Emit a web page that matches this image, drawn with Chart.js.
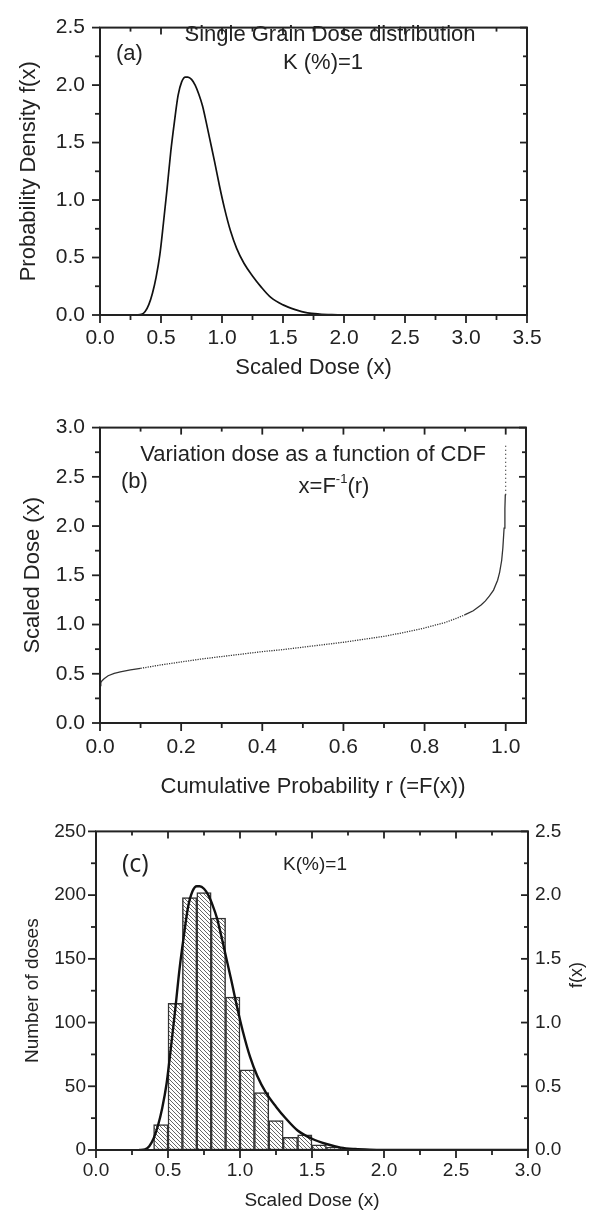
<!DOCTYPE html>
<html>
<head>
<meta charset="utf-8">
<script src="https://cdn.jsdelivr.net/npm/chart.js@4.4.1/dist/chart.umd.min.js"></script>
<style>
  html, body { margin: 0; padding: 0; background: #fff; }
  body { width: 597px; height: 1212px; position: relative; overflow: hidden; }
  .panel { position: absolute; left: 0; width: 597px; }
</style>
</head>
<body>
<div class="panel" style="top:0;height:400px"><canvas id="chartA"></canvas></div>
<div class="panel" style="top:400px;height:410px"><canvas id="chartB"></canvas></div>
<div class="panel" style="top:810px;height:402px"><canvas id="chartC"></canvas></div>
<script>
// (a) probability density f(x) of the scaled single grain dose
const densityX = [0.30, 0.34, 0.37, 0.40, 0.43, 0.46, 0.49, 0.52, 0.55, 0.58, 0.61, 0.64, 0.67, 0.70, 0.72,
                  0.75, 0.78, 0.81, 0.84, 0.87, 0.90, 0.94, 0.98, 1.02, 1.07, 1.12, 1.18, 1.25, 1.32, 1.40,
                  1.50, 1.60, 1.70, 1.80, 1.90, 2.00, 2.50, 3.00, 3.50];
const densityY = [0.00, 0.005, 0.03, 0.09, 0.19, 0.33, 0.52, 0.80, 1.10, 1.42, 1.68, 1.91, 2.03, 2.07, 2.07,
                  2.05, 2.00, 1.92, 1.82, 1.68, 1.53, 1.33, 1.12, 0.93, 0.73, 0.58, 0.45, 0.34, 0.245, 0.153,
                  0.088, 0.047, 0.019, 0.008, 0.003, 0.001, 0, 0, 0];

// (b) dose as a function of the cumulative probability, x = F^-1(r)
const cdfR = [0, 0.002, 0.005, 0.01, 0.02, 0.035, 0.05, 0.075, 0.1, 0.15, 0.2, 0.25, 0.3, 0.35, 0.4, 0.45,
              0.5, 0.55, 0.6, 0.65, 0.7, 0.75, 0.8, 0.85, 0.88, 0.9, 0.92, 0.94, 0.95, 0.96, 0.97, 0.98,
              0.985, 0.99, 0.993, 0.996, 0.998, 0.999, 0.9995, 0.9998, 1.0];
const cdfDose = [0.38, 0.41, 0.43, 0.45, 0.48, 0.505, 0.52, 0.54, 0.555, 0.59, 0.62, 0.65, 0.675, 0.70, 0.725, 0.745,
                 0.77, 0.795, 0.82, 0.85, 0.88, 0.92, 0.965, 1.02, 1.065, 1.10, 1.14, 1.20, 1.24, 1.29, 1.35, 1.45,
                 1.53, 1.65, 1.78, 1.98, 2.18, 2.32, 2.42, 2.60, 2.82];

// (c) histogram of simulated doses (bin width 0.1)
const binCenters = [0.45, 0.55, 0.65, 0.75, 0.85, 0.95, 1.05, 1.15, 1.25, 1.35, 1.45, 1.55, 1.65, 1.75];
const doseCounts = [20, 115, 198, 202, 182, 120, 63, 45, 23, 10, 12, 4, 2, 1];

// tick values
const doseTicksA = [0, 0.5, 1.0, 1.5, 2.0, 2.5, 3.0, 3.5];
const densityTicks = [0, 0.5, 1.0, 1.5, 2.0, 2.5];
const probTicks = [0, 0.2, 0.4, 0.6, 0.8, 1.0];
const doseTicksB = [0, 0.5, 1.0, 1.5, 2.0, 2.5, 3.0];
const doseTicksC = [0, 0.5, 1.0, 1.5, 2.0, 2.5, 3.0];
const countTicks = [0, 50, 100, 150, 200, 250];

const FONT = "'Liberation Sans', Arial, sans-serif";
const INK = '#222';
Chart.defaults.font.family = FONT;
Chart.defaults.color = INK;

const setTicks = arr => s => { s.ticks = arr.map(v => ({ value: v })); };
const noGrid = { display: false, drawTicks: false };

// frame with major/minor ticks (outward on bottom/left, inward on top/right)
const frameAxes = {
    id: 'frameAxes',
    afterDatasetsDraw(chart) {
        const { ctx, chartArea: a } = chart;
        ctx.save();
        ctx.strokeStyle = INK;
        ctx.lineWidth = 1.8;
        const line = (x1, y1, x2, y2) => { ctx.beginPath(); ctx.moveTo(x1, y1); ctx.lineTo(x2, y2); ctx.stroke(); };
        const marks = (scale, major, minor) => {
            const vals = scale.ticks.map(t => t.value);
            const out = [];
            vals.forEach((v, i) => {
                out.push([scale.getPixelForValue(v), major]);
                if (i < vals.length - 1) out.push([scale.getPixelForValue((v + vals[i + 1]) / 2), minor]);
            });
            return out;
        };
        marks(chart.scales.x, 8, 5).forEach(([px, len]) => line(px, a.bottom, px, a.bottom + len));
        marks(chart.scales.x, 7, 4).forEach(([px, len]) => line(px, a.top, px, a.top + len));
        marks(chart.scales.y, 8, 5).forEach(([py, len]) => line(a.left - len, py, a.left, py));
        const right = chart.scales.y2 || chart.scales.y;
        marks(right, 7, 4).forEach(([py, len]) => line(a.right - len, py, a.right, py));
        ctx.lineWidth = 2;
        ctx.strokeRect(a.left, a.top, a.right - a.left, a.bottom - a.top);
        ctx.restore();
    }
};

// free text inside the panels
const notes = {
    id: 'notes',
    afterDraw(chart, args, opts) {
        const ctx = chart.ctx;
        ctx.save();
        ctx.fillStyle = INK;
        ctx.textBaseline = 'middle';
        (opts.items || []).forEach(it => {
            ctx.font = it.font || `22px ${FONT}`;
            if (it.rotate) {
                ctx.save();
                ctx.translate(it.x, it.y);
                ctx.rotate(it.rotate);
                ctx.textAlign = 'center';
                ctx.fillText(it.text, 0, 0);
                ctx.restore();
                return;
            }
            if (it.parts) {
                const supFont = `13px ${FONT}`;
                const widths = it.parts.map(p => { ctx.font = p.sup ? supFont : it.font; return ctx.measureText(p.t).width; });
                let x = it.x - widths.reduce((s, w) => s + w, 0) / 2;
                ctx.textAlign = 'left';
                it.parts.forEach((p, i) => {
                    ctx.font = p.sup ? supFont : it.font;
                    ctx.fillText(p.t, x, p.sup ? it.y - 8 : it.y);
                    x += widths[i];
                });
                return;
            }
            ctx.textAlign = it.align || 'center';
            ctx.fillText(it.text, it.x, it.y);
        });
        ctx.restore();
    }
};

const basePlugins = { legend: { display: false }, tooltip: { enabled: false } };

// (a)
new Chart(document.getElementById('chartA'), {
    type: 'line',
    data: {
        datasets: [{
            data: densityX.map((x, i) => ({ x, y: densityY[i] })),
            borderColor: '#111',
            borderWidth: 1.7,
            pointRadius: 0,
            cubicInterpolationMode: 'monotone',
            fill: false
        }]
    },
    options: {
        animation: false,
        responsive: true,
        maintainAspectRatio: false,
        layout: { padding: { top: 15, right: 70, left: 0, bottom: 0 } },
        plugins: {
            ...basePlugins,
            notes: {
                items: [
                    { text: '(a)', x: 116, y: 54, align: 'left' },
                    { text: 'Single Grain Dose distribution', x: 330, y: 35 },
                    { text: 'K (%)=1', x: 323, y: 63 }
                ]
            }
        },
        scales: {
            x: {
                type: 'linear', min: 0, max: 3.5,
                afterBuildTicks: setTicks(doseTicksA),
                afterFit: s => { s.height = 85; },
                grid: noGrid, border: { display: false },
                ticks: { padding: 11, font: { size: 21 }, maxRotation: 0, autoSkip: false, callback: v => v.toFixed(1) },
                title: { display: true, text: 'Scaled Dose (x)', font: { size: 22 }, padding: { top: 0, bottom: 19 } }
            },
            y: {
                min: 0, max: 2.5,
                afterBuildTicks: setTicks(densityTicks),
                afterFit: s => { s.width = 100; },
                grid: noGrid, border: { display: false },
                ticks: { padding: 15, font: { size: 21 }, autoSkip: false, callback: v => v.toFixed(1) },
                title: { display: true, text: 'Probability Density f(x)', font: { size: 22 }, padding: { top: 16, bottom: 0 } }
            }
        }
    },
    plugins: [frameAxes, notes]
});

// (b)
new Chart(document.getElementById('chartB'), {
    type: 'line',
    data: {
        datasets: [{
            data: cdfR.map((r, i) => ({ x: r, y: cdfDose[i] })),
            borderColor: '#333',
            borderWidth: 1.3,
            pointRadius: 0,
            fill: false,
            tension: 0,
            segment: {
                borderDash: c => {
                    if (c.p0.parsed.y >= 2.3) return [1, 3];
                    if (c.p0.parsed.x >= 0.1 && c.p1.parsed.x <= 0.9) return [1.2, 1.2];
                    return undefined;
                }
            }
        }]
    },
    options: {
        animation: false,
        responsive: true,
        maintainAspectRatio: false,
        layout: { padding: { top: 23, right: 71, left: 0, bottom: 0 } },
        plugins: {
            ...basePlugins,
            notes: {
                items: [
                    { text: 'Variation dose as a function of CDF', x: 313, y: 55 },
                    { parts: [{ t: 'x=F' }, { t: '-1', sup: true }, { t: '(r)' }], x: 334, y: 87, font: `22px ${FONT}` },
                    { text: '(b)', x: 121, y: 82, align: 'left' }
                ]
            }
        },
        scales: {
            x: {
                type: 'linear', min: 0, max: 1.05,
                afterBuildTicks: setTicks(probTicks),
                afterFit: s => { s.height = 87; },
                grid: noGrid, border: { display: false },
                ticks: { padding: 12, font: { size: 21 }, maxRotation: 0, autoSkip: false, callback: v => v.toFixed(1) },
                title: { display: true, text: 'Cumulative Probability r (=F(x))', font: { size: 22 }, padding: { top: 0, bottom: 10 } }
            },
            y: {
                min: 0, max: 3,
                afterBuildTicks: setTicks(doseTicksB),
                afterFit: s => { s.width = 100; },
                grid: noGrid, border: { display: false },
                ticks: { padding: 15, font: { size: 21 }, autoSkip: false, callback: v => v.toFixed(1) },
                title: { display: true, text: 'Scaled Dose (x)', font: { size: 22 }, padding: { top: 20, bottom: 0 } }
            }
        }
    },
    plugins: [frameAxes, notes]
});

// (c)
const hatchCanvas = document.createElement('canvas');
hatchCanvas.width = 4;
hatchCanvas.height = 4;
const hctx = hatchCanvas.getContext('2d');
hctx.fillStyle = '#fff';
hctx.fillRect(0, 0, 4, 4);
hctx.strokeStyle = '#555';
hctx.lineWidth = 0.9;
[-4, 0, 4].forEach(x0 => { hctx.beginPath(); hctx.moveTo(x0, 0); hctx.lineTo(x0 + 4, 4); hctx.stroke(); });
const hatch = hctx.createPattern(hatchCanvas, 'repeat');

new Chart(document.getElementById('chartC'), {
    type: 'bar',
    data: {
        datasets: [{
            type: 'line',
            order: 0,
            yAxisID: 'y2',
            data: densityX.map((x, i) => ({ x, y: densityY[i] })),
            borderColor: '#111',
            borderWidth: 2.4,
            pointRadius: 0,
            cubicInterpolationMode: 'monotone',
            fill: false
        }, {
            type: 'bar',
            order: 1,
            yAxisID: 'y',
            data: binCenters.map((x, i) => ({ x, y: doseCounts[i] })),
            backgroundColor: hatch,
            borderColor: '#333',
            borderWidth: 1.5,
            borderSkipped: false,
            barPercentage: 1,
            categoryPercentage: 1
        }]
    },
    options: {
        animation: false,
        responsive: true,
        maintainAspectRatio: false,
        layout: { padding: { top: 20, right: 0, left: 0, bottom: 0 } },
        plugins: {
            ...basePlugins,
            notes: {
                items: [
                    { text: '(c)', x: 122, y: 55, align: 'left', font: `25px 'Open Sans', sans-serif` },
                    { text: 'K(%)=1', x: 315, y: 55, font: `19px ${FONT}` },
                    { text: 'f(x)', x: 577, y: 165, rotate: -Math.PI / 2, font: `18px ${FONT}` }
                ]
            }
        },
        scales: {
            x: {
                type: 'linear', min: 0, max: 3, offset: false,
                afterBuildTicks: setTicks(doseTicksC),
                afterFit: s => { s.height = 62; },
                grid: { display: false, drawTicks: false, offset: false }, border: { display: false },
                ticks: { padding: 9, font: { size: 19 }, maxRotation: 0, autoSkip: false, callback: v => v.toFixed(1) },
                title: { display: true, text: 'Scaled Dose (x)', font: { size: 19 }, padding: { top: 0, bottom: 0 } }
            },
            y: {
                position: 'left',
                min: 0, max: 250,
                afterBuildTicks: setTicks(countTicks),
                afterFit: s => { s.width = 96; },
                grid: noGrid, border: { display: false },
                ticks: { padding: 10, font: { size: 19 }, autoSkip: false },
                title: { display: true, text: 'Number of doses', font: { size: 19 }, padding: { top: 21, bottom: 0 } }
            },
            y2: {
                position: 'right',
                min: 0, max: 2.5,
                afterBuildTicks: setTicks(densityTicks),
                afterFit: s => { s.width = 69; },
                grid: noGrid, border: { display: false },
                ticks: { padding: 7, font: { size: 19 }, autoSkip: false, callback: v => v.toFixed(1) },
                title: { display: false }
            }
        }
    },
    plugins: [frameAxes, notes]
});
</script>
</body>
</html>
